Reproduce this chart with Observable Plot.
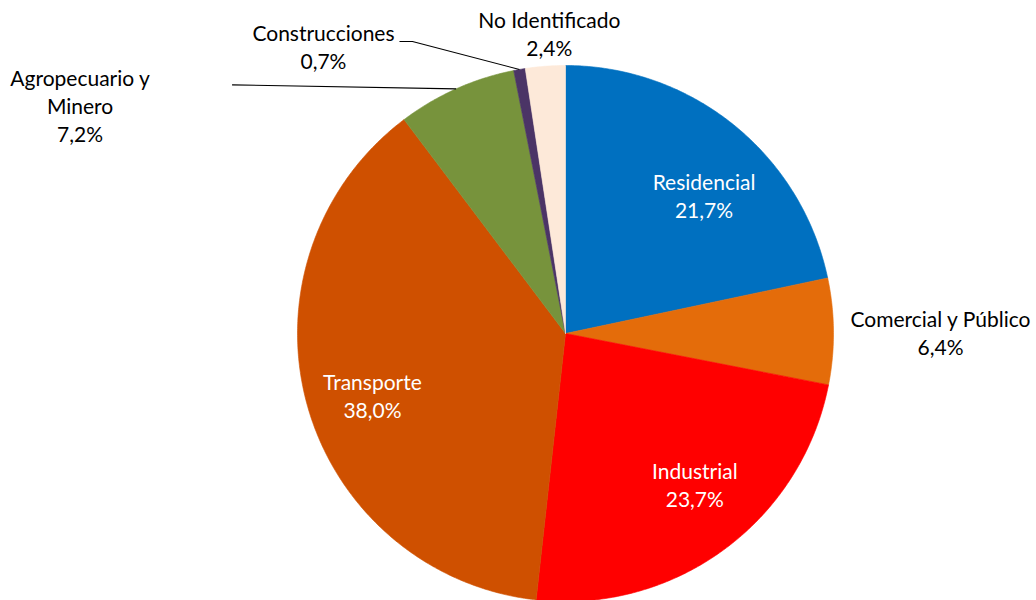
<!DOCTYPE html>
<html><head><meta charset="utf-8">
<script src="https://cdn.jsdelivr.net/npm/d3@7"></script>
<script src="https://cdn.jsdelivr.net/npm/@observablehq/plot@0.6"></script>
<style>body{margin:0;background:#fff} #chart svg{display:block}</style>
</head><body><div id="chart"></div>
<script>
// ---- data ----
const categories = ["Residencial", "Comercial y Público", "Industrial", "Transporte", "Agropecuario y Minero", "Construcciones", "No Identificado"];
const labelNames = ["Residencial", "Comercial y Público", "Industrial", "Transporte", "Agropecuario y\nMinero", "Construcciones", "No Identificado"];
const shares = [21.7, 6.4, 23.7, 38.0, 7.2, 0.7, 2.4];
const pctLabels = ["21,7%", "6,4%", "23,7%", "38,0%", "7,2%", "0,7%", "2,4%"];
const colors = ["#0070C0", "#E46C0A", "#FF0000", "#CF5000", "#77933C", "#4B3466", "#FDE9D9"];
const textColors = ["#ffffff", "#000000", "#ffffff", "#ffffff", "#000000", "#000000", "#000000"];
// label placement: radial fraction of the slice mid-angle, then pixel nudge
const labelRadial = [0.72, 1, 0.72, 0.72, 1, 1, 1];
const labelDx = [17, 107, 15, -7, -376, -196, 4];
const labelDy = [11.5, 1, -5, 10.5, 16, -23, -33];
// leader lines: pixel offsets from the slice's outer mid-point
const leaderCats = ["Agropecuario y Minero", "Construcciones", "Construcciones"];
const leaderDx = [-224, -107, -120];
const leaderDy = [-4, -28, -28];

// ---- layout ----
const W = 1036, H = 600, CX = 565, CY = 333, R = 268;
const total = d3.sum(shares);
let cum = 0;
const slices = categories.map((c, i) => {
  const a0 = 2 * Math.PI * cum / total;
  cum += shares[i];
  const a1 = 2 * Math.PI * cum / total;
  return {cat: c, i, a0, a1, mid: (a0 + a1) / 2};
});
const pts = [];
for (const s of slices) {
  const n = Math.max(2, Math.ceil((s.a1 - s.a0) / (Math.PI / 360)));
  pts.push({cat: s.cat, x: 0, y: 0});
  for (let k = 0; k <= n; k++) {
    const a = s.a0 + (s.a1 - s.a0) * k / n;
    pts.push({cat: s.cat, x: Math.sin(a), y: Math.cos(a)});
  }
  pts.push({cat: s.cat, x: 0, y: 0});
}
const labels = slices.map(s => {
  const f = labelRadial[s.i];
  return {
    cat: s.cat,
    text: labelNames[s.i] + "\n" + pctLabels[s.i],
    color: textColors[s.i],
    x: f * Math.sin(s.mid) + labelDx[s.i] / R,
    y: f * Math.cos(s.mid) - labelDy[s.i] / R
  };
});
const leaders = [];
const byCat = Object.fromEntries(slices.map(s => [s.cat, s]));
const seen = new Set();
leaderCats.forEach((c, j) => {
  const s = byCat[c];
  const ex = Math.sin(s.mid), ey = Math.cos(s.mid);
  if (!seen.has(c)) { leaders.push({cat: c, x: ex, y: ey}); seen.add(c); }
  leaders.push({cat: c, x: ex + leaderDx[j] / R, y: ey - leaderDy[j] / R});
});

const chart = Plot.plot({
  width: W, height: H,
  marginTop: 0, marginRight: 0, marginBottom: 0, marginLeft: 0,
  x: {domain: [-1, 1], range: [CX - R, CX + R], axis: null},
  y: {domain: [-1, 1], range: [CY + R, CY - R], axis: null},
  color: {domain: categories, range: colors},
  style: {fontFamily: "Lato, sans-serif", background: "#fff"},
  marks: [
    Plot.line(pts, {x: "x", y: "y", z: "cat", fill: "cat", stroke: "cat", strokeWidth: 0.6, curve: "linear"}),
    Plot.line(leaders, {x: "x", y: "y", z: "cat", stroke: "#000", strokeWidth: 1.1, strokeLinecap: "butt", curve: "linear"}),
    Plot.text(labels, {x: "x", y: "y", text: "text", fill: d => d.color, fontSize: 21, lineHeight: 1.33, textAnchor: "middle", lineAnchor: "middle"})
  ]
});
document.getElementById("chart").appendChild(chart);
</script>
</body></html>
